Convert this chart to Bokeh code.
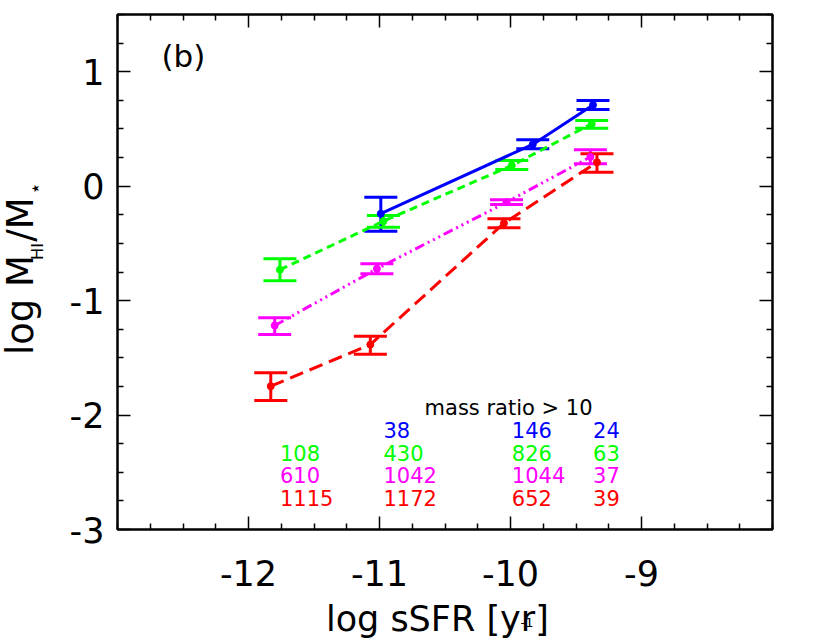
import numpy as np
from bokeh.plotting import figure
from bokeh.layouts import row, column
from bokeh.models import (ColumnDataSource, Whisker, TeeHead, LinearAxis,
                          FixedTicker, Range1d, Label)
from bokeh.core.properties import value
from bokeh.embed import file_html
from bokeh.resources import INLINE

FONT = "DejaVu Sans"

# ---------------- data ----------------
blue_x = [-10.99, -9.83, -9.37]
blue_y = [-0.24, 0.365, 0.71]
blue_lo = [-0.395, 0.326, 0.670]
blue_hi = [-0.096, 0.405, 0.749]

green_x = [-11.76, -10.97, -9.99, -9.38]
green_y = [-0.73, -0.306, 0.181, 0.545]
green_lo = [-0.827, -0.359, 0.146, 0.506]
green_hi = [-0.635, -0.256, 0.224, 0.574]

magenta_x = [-11.80, -11.02, -10.03, -9.39]
magenta_y = [-1.218, -0.722, -0.140, 0.255]
magenta_lo = [-1.296, -0.766, -0.160, 0.195]
magenta_hi = [-1.150, -0.678, -0.119, 0.318]

red_x = [-11.83, -11.07, -10.05, -9.34]
red_y = [-1.748, -1.384, -0.324, 0.209]
red_lo = [-1.873, -1.468, -0.364, 0.122]
red_hi = [-1.631, -1.311, -0.285, 0.283]

# number of galaxies per sSFR bin (one column per bin)
blue_counts = [None, 38, 146, 24]
green_counts = [108, 430, 826, 63]
magenta_counts = [610, 1042, 1044, 37]
red_counts = [1115, 1172, 652, 39]
counts_title = "mass ratio > 10"
panel_tag = "(b)"

x_ticks = [-12, -11, -10, -9]
y_ticks = [-3, -2, -1, 0, 1]

# ---------------- layout constants (page pixels) ----------------
W, H = 830, 642
YLAB_W = 60
MAIN_H = 600
BASE_FIX = 0.42          # empirical baseline correction (fraction of font size)
count_col_x = [-11.76, -10.97, -9.99, -9.37]
count_row_y = [-2.21, -2.405, -2.60, -2.805]
title_pos = (-10.656, -2.013)

# y-axis title pieces: (text, baseline x, centre y, size px)
ylab_parts = [("log M", 36, 304.5, 37),
              ("HI", 44, 251, 16),
              ("/M", 36, 219, 37),
              ("\u22c6", 43, 188, 20)]
# x-axis title pieces: (text, centre x, baseline y, size px)
xlab_parts = [("log sSFR [yr", 428, 633, 35),
              ("-1", 541.5, 627, 13),
              ("]", 559, 633, 35)]


def bare_fig(w, h, xr, yr):
    f = figure(width=w, height=h, x_range=xr, y_range=yr,
               x_axis_type=None, y_axis_type=None, title_location=None,
               output_backend="svg", toolbar_location=None,
               min_border_left=0, min_border_right=0,
               min_border_top=0, min_border_bottom=0)
    f.outline_line_color = None
    f.background_fill_color = "white"
    f.border_fill_color = "white"
    return f


# ---- y-axis title figure ----
ylab = bare_fig(YLAB_W, H, Range1d(0, YLAB_W), Range1d(0, H))
ylab_src = ColumnDataSource(dict(
    x=[q[1] - BASE_FIX * q[3] for q in ylab_parts],
    y=[H - q[2] for q in ylab_parts],
    t=[q[0] for q in ylab_parts],
    s=["%dpx" % q[3] for q in ylab_parts]))
ylab.text(x="x", y="y", text="t", source=ylab_src, angle=np.pi / 2,
          text_font=value(FONT), text_font_size="s", text_color="black",
          text_align="center", text_baseline="alphabetic")

# ---- main figure ----
p = figure(width=W - YLAB_W, height=MAIN_H,
           x_range=Range1d(-13, -8), y_range=Range1d(-3, 1.5),
           x_axis_type=None, y_axis_type=None, title_location=None,
           output_backend="svg", toolbar_location=None,
           min_border_left=57, min_border_right=58,
           min_border_top=14, min_border_bottom=MAIN_H - 529)
p.outline_line_color = "black"
p.outline_line_width = 2
p.background_fill_color = "white"
p.border_fill_color = "white"

x_minor = [float(v) for v in np.arange(-13, -7.99, 0.25) if v not in x_ticks]
y_minor = [float(v) for v in np.arange(-3, 1.51, 0.25) if v not in y_ticks]


def make_axis(ticks, minor, labels):
    ax = LinearAxis(ticker=FixedTicker(ticks=ticks, minor_ticks=minor))
    ax.axis_line_color = "black"
    ax.axis_line_width = 2
    ax.major_tick_in = 13
    ax.major_tick_out = 0
    ax.minor_tick_in = 6
    ax.minor_tick_out = 0
    ax.major_tick_line_color = "black"
    ax.major_tick_line_width = 1.5
    ax.minor_tick_line_color = "black"
    ax.minor_tick_line_width = 1.5
    if labels:
        ax.major_label_text_font = FONT
        ax.major_label_text_font_size = "35px"
        ax.major_label_text_color = "black"
        ax.major_label_overrides = {t: str(t) for t in ticks}
    else:
        ax.major_label_overrides = {t: "" for t in ticks}
        ax.major_label_text_font_size = "0px"
        ax.major_label_standoff = 0
    return ax


xb = make_axis(x_ticks, x_minor, True)
xb.major_label_standoff = 30
yl = make_axis(y_ticks, y_minor, True)
yl.major_label_standoff = 13
p.add_layout(xb, "below")
p.add_layout(yl, "left")
p.add_layout(make_axis(x_ticks, x_minor, False), "above")
p.add_layout(make_axis(y_ticks, y_minor, False), "right")

series = [
    (blue_x, blue_y, blue_lo, blue_hi, "#0000ff", "solid"),
    (green_x, green_y, green_lo, green_hi, "#00ff00", "8 5"),
    (magenta_x, magenta_y, magenta_lo, magenta_hi, "#ff00ff", "10 4 2 4 2 4 2 4"),
    (red_x, red_y, red_lo, red_hi, "#ff0000", "14 7"),
]
for xs, ys, lo, hi, c, dash in series:
    src = ColumnDataSource(dict(x=xs, y=ys, lo=lo, hi=hi))
    w = Whisker(source=src, base="x", lower="lo", upper="hi", dimension="height",
                line_color=c, line_width=3,
                upper_head=TeeHead(size=33, line_color=c, line_width=3),
                lower_head=TeeHead(size=33, line_color=c, line_width=3))
    p.add_layout(w)
    p.line("x", "y", source=src, line_color=c, line_width=3, line_dash=dash)
    p.scatter("x", "y", source=src, size=7, color=c)

# counts table
p.add_layout(Label(x=title_pos[0], y=title_pos[1], text=counts_title, text_font=FONT,
                   text_font_size="21px", text_color="black",
                   y_offset=BASE_FIX * 21,
                   text_baseline="alphabetic", text_align="left"))
for counts, c, ry in zip([blue_counts, green_counts, magenta_counts, red_counts],
                         ["#0000ff", "#00ff00", "#ff00ff", "#ff0000"], count_row_y):
    for n, cx in zip(counts, count_col_x):
        if n is None:
            continue
        p.add_layout(Label(x=cx, y=ry, text=str(n), text_font=FONT,
                           text_font_size="21px", text_color=c,
                           y_offset=BASE_FIX * 21,
                           text_baseline="alphabetic", text_align="left"))

# panel tag
p.add_layout(Label(x=44, y=460, x_units="screen", y_units="screen", text=panel_tag,
                   text_font=FONT, text_font_size="31px", text_color="black",
                   y_offset=BASE_FIX * 31,
                   text_baseline="alphabetic", text_align="left"))

# ---- x-axis title figure ----
XLAB_H = H - MAIN_H
xlab = bare_fig(W - YLAB_W, XLAB_H, Range1d(YLAB_W, W), Range1d(0, XLAB_H))
xlab_src = ColumnDataSource(dict(
    x=[q[1] for q in xlab_parts],
    y=[H - q[2] + BASE_FIX * q[3] for q in xlab_parts],
    t=[q[0] for q in xlab_parts],
    s=["%dpx" % q[3] for q in xlab_parts]))
xlab.text(x="x", y="y", text="t", source=xlab_src,
          text_font=value(FONT), text_font_size="s", text_color="black",
          text_align="center", text_baseline="alphabetic")

layout = row(ylab, column(p, xlab))
open("out.html", "w").write(file_html(layout, INLINE))
